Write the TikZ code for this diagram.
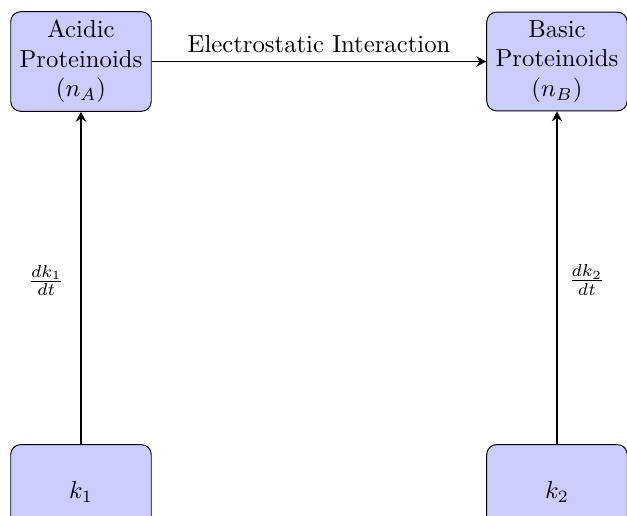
\documentclass[tikz,border=0pt]{standalone}
\usetikzlibrary{arrows.meta}
\begin{document}
\begin{tikzpicture}[x=0.405pt,y=-0.405pt,
  box/.style={draw, rounded corners=4pt, fill=blue!20, minimum width=2cm, minimum height=38.4pt, align=center},
  conn/.style={-{Stealth[length=4pt,width=4.2pt,inset=1.3pt]}, thick}]
\useasboundingbox (0,0) rectangle (627,516);
\node[box] (A) at (81,61.5) {Acidic\\Proteinoids\\$(n_A)$};
\node[box] (B) at (557,61.5) {Basic\\Proteinoids\\$(n_B)$};
\node[box] (K1) at (81,492) {$k_1$};
\node[box] (K2) at (557,492) {$k_2$};
\draw[conn] (A) -- node[above] {Electrostatic Interaction} (B);
\draw[conn] (K1) -- node[left, xshift=-3pt, yshift=-1pt] {$\frac{dk_1}{dt}$} (A);
\draw[conn] (K2) -- node[right, xshift=1pt, yshift=-1pt] {$\frac{dk_2}{dt}$} (B);
\end{tikzpicture}
\end{document}
